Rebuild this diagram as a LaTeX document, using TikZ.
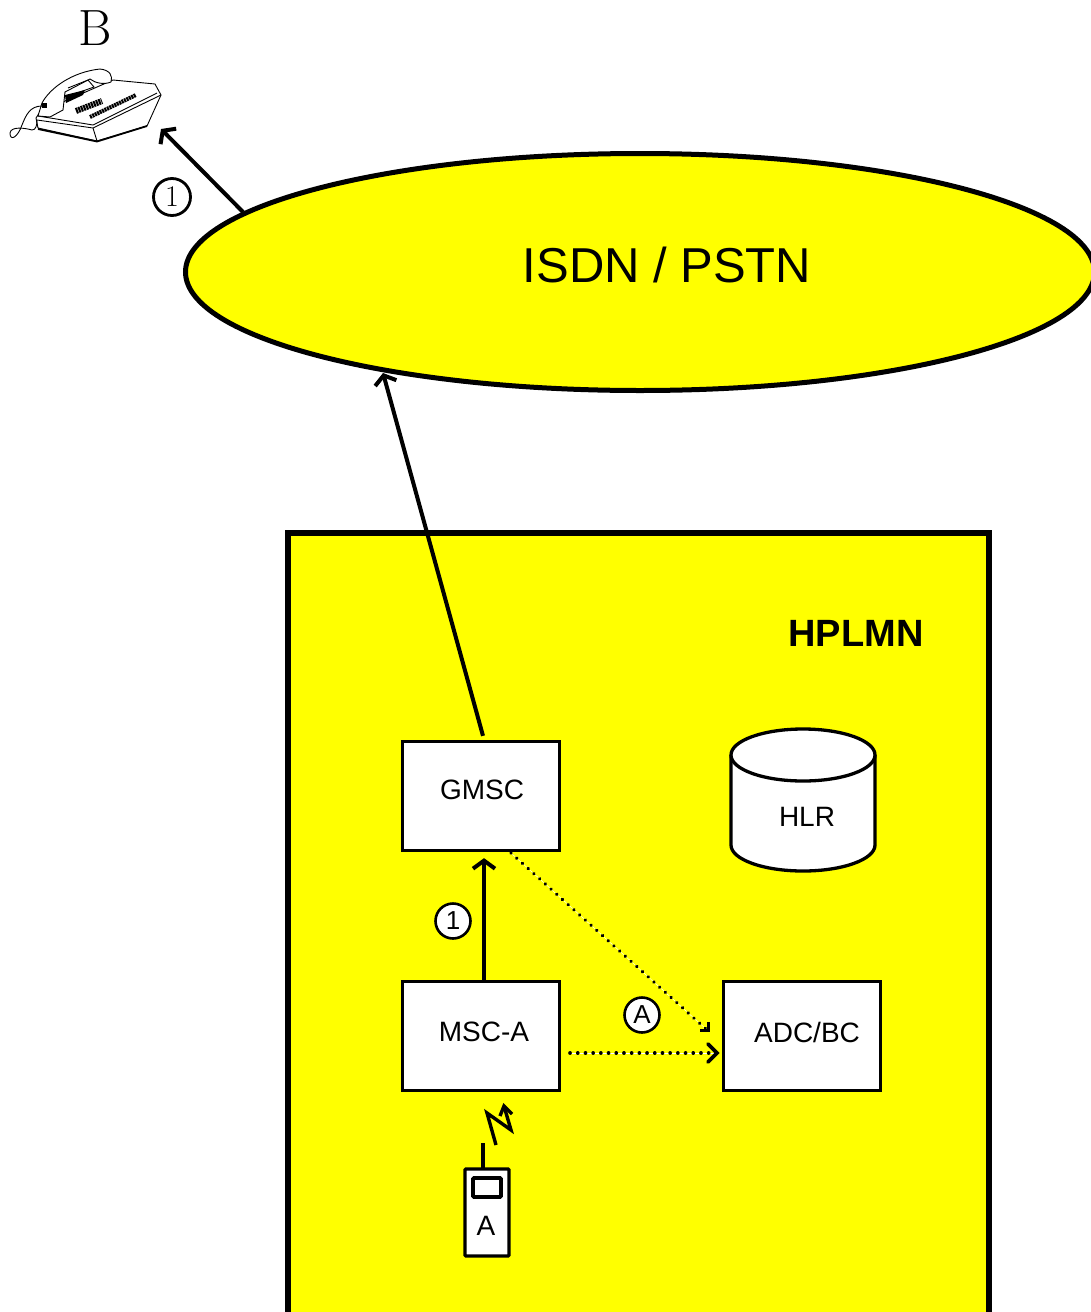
\documentclass[tikz,border=0pt]{standalone}
\usepackage{fontspec}
\setsansfont{Liberation Sans}
\usetikzlibrary{arrows.meta,positioning,calc,shapes.geometric}
\definecolor{netyellow}{RGB}{255,255,0}
\tikzset{
    netbox/.style={draw, fill=white, line width=3.3pt, minimum width=157pt, minimum height=109pt, inner sep=0pt},
    nettext/.style={font=\sffamily\fontsize{28}{30}\selectfont, inner sep=0pt},
    stepmark/.style={circle, draw, fill=white, line width=2.6pt, minimum size=35pt, inner sep=0pt, font=\sffamily\fontsize{26}{28}\selectfont},
    msgline/.style={line width=4pt, -{Straight Barb[length=8pt,width=22pt,line width=4pt]}},
    dotline/.style={line width=3.6pt, line cap=round, dash pattern=on 0.1pt off 7.6pt, preaction={draw=white, solid, line cap=butt}},
}
\begin{document}
\begin{tikzpicture}[x=1pt, y=-1pt]
    \useasboundingbox (0,0) rectangle (1091,1312);

    % PSTN cloud and home network
    \node[ellipse, draw, fill=netyellow, line width=5pt, minimum width=909pt, minimum height=237pt, inner sep=0pt] (isdn) at (640,272) {};
    \node[font=\sffamily\fontsize{49}{54}\selectfont, inner sep=0pt] (isdntext) at (667,265) {ISDN / PSTN};
    \fill[netyellow] (288,533) rectangle (989,1312);
    \draw[line width=5.5pt] (288,1316) -- (288,533) -- (989,533) -- (989,1316);
    \node[font=\sffamily\bfseries\fontsize{38}{40}\selectfont, inner sep=0pt] (hplmn) at (856,633) {HPLMN};

    % Boxes
    \node[netbox] (gmsc) at (481,796) {};
    \node[nettext] (gmsctext) at (482,790) {GMSC};
    \node[netbox] (msca) at (481,1036) {};
    \node[nettext] (mscatext) at (484,1032) {MSC-A};
    \node[netbox] (adc) at (802,1036) {};
    \node[nettext] (adctext) at (807,1032) {ADC/BC};

    % HLR cylinder
    \draw[fill=white, line width=3.3pt] (731,755) -- (731,845) arc[start angle=180, end angle=360, x radius=72pt, y radius=26pt] -- (875,755);
    \draw[fill=white, line width=3.3pt] (803,755) ellipse[x radius=72pt, y radius=26pt];
    \node[nettext] (hlr) at (807,817) {HLR};

    % Mobile A
    \draw[line width=3.3pt, fill=white, rounded corners=1pt] (465,1169) rectangle (509,1256);
    \draw[line width=3.6pt, rounded corners=1pt] (473,1178) rectangle (501,1197);
    \node[nettext] (mobile) at (486,1226) {A};
    \draw[line width=3.4pt] (483,1169) -- (483,1143);
    \draw[line width=3.4pt] (496,1145) -- (487,1113) -- (511,1130) -- (504,1106);
    \draw[line width=3.4pt] (500,1116) -- (504,1106) -- (512,1114);

    % Phone B
    \node[font=\fontsize{51}{54}\selectfont, inner sep=0pt] (phoneb) at (95,28) {B};
    \begin{scope}[line width=0.9pt]
        \draw[fill=white] (113,80) -- (155,84) -- (161,95) -- (147,126) -- (97,141) -- (38,128) -- (36,118) -- (40,112) -- cycle;
        \draw (38,116) -- (93,125) -- (157,93);
        \draw (37,120) -- (93,128) -- (161,95);
        \draw (93,128) -- (97,141);
        \draw[line width=1.8pt] (38,129) -- (97,141.5) -- (147,126);
        \draw[fill=white] (42,103) .. controls (50,88) and (72,72) .. (100,69) .. controls (110,70) and (113,76) .. (111,82) .. controls (104,85) and (95,83) .. (90,79) -- (65,92) -- (63,110) -- (50,117) -- (38,116) -- cycle;
        \fill (65,95) -- (85,90) -- (83,95) -- (66,103) -- cycle;
        \draw (68,88) -- (88,80) -- (94,87) -- (66,97);
        \draw[line width=6pt, dash pattern=on 2pt off 0.7pt] (76,111) -- (102,101);
        \draw[line width=4pt, dash pattern=on 2pt off 0.7pt] (90,117) -- (136,95);
        \draw (42,106) .. controls (30,106) and (26,115) .. (22,125) .. controls (18,137) and (10,142) .. (10,133) .. controls (11,126) and (25,128) .. (32,130) .. controls (36,130) and (37,125) .. (37,120);
        \fill (42,103) rectangle (47,108);
    \end{scope}

    % Connectors
    \coordinate (phonetip) at (161,129);
    \coordinate (isdnexit) at (243,212);
    \coordinate (isdnentry) at (383,373);
    \draw[msgline] (isdnexit) -- (phonetip);
    \draw[msgline] ([xshift=2pt,yshift=4pt]gmsc.north) -- (isdnentry);
    \draw[msgline] ([xshift=3pt]msca.north) -- ([xshift=3pt,yshift=-6pt]gmsc.south);
    \coordinate (diagstart) at (511,853);
    \coordinate (diagend) at (706,1029);
    \draw[dotline] (diagstart) -- (diagend);
    \draw[line width=3.6pt] (700,1030.5) -- (708.5,1030.5) -- (708.5,1022);
    \coordinate (flowstart) at (570,1053);
    \draw[dotline] (flowstart) -- (714,1053);
    \draw[line width=3.8pt, line cap=round] (708,1044) -- (717,1053) -- (708,1062);

    % Step labels
    \node[stepmark, line width=2.8pt, minimum size=37pt, font=\fontsize{30}{32}\selectfont] (stepb) at (172,197) {1};
    \node[stepmark] (stepmsc) at (453,921) {1};
    \node[stepmark] (stepadc) at (642,1015) {A};
\end{tikzpicture}
\end{document}
